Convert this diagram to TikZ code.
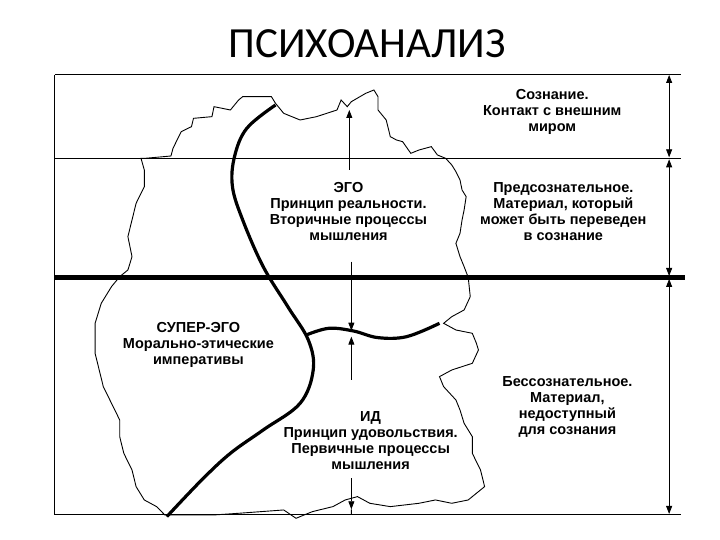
\documentclass[tikz,border=0pt]{standalone}
\usepackage{fontspec}
\setmainfont{Liberation Sans}
\newfontfamily\titlefont{Carlito}
\usetikzlibrary{arrows.meta}
\begin{document}
\begin{tikzpicture}[x=1pt,y=-1pt,
  lbl/.style={align=center,font=\bfseries\fontsize{14.5}{16}\selectfont,inner sep=0pt},
  arr/.style={line width=0.8pt,-{Triangle[length=8pt,width=6pt]}},
  darr/.style={line width=0.8pt,{Triangle[length=8pt,width=6pt]}-{Triangle[length=8pt,width=6pt]}}]
\useasboundingbox (0,0) rectangle (720,540);
\node[font=\titlefont\fontsize{43}{43}\selectfont] (title) at (367,44) {ПСИХОАНАЛИЗ};
\begin{scope}[shift={(50,70)},xscale=0.41,yscale=0.3333]
% frame lines
\draw[line width=1pt] (12,15) -- (1540,15);
\draw[line width=1pt] (12,265) -- (1540,265);
\draw[line width=4.5pt] (12,622) -- (1548,622);
\draw[line width=1pt] (12,1335) -- (1540,1335);
\draw[line width=1pt] (12,15) -- (12,1335);
% blob
\draw[line width=0.9pt] (222,265) -- (232,265) -- (295,258) -- (300,235) -- (320,185) -- (345,170) -- (350,145) -- (395,140) -- (400,110) -- (440,120) -- (460,90) -- (470,80) -- (540,80) -- (550,100) -- (570,130) -- (610,150) -- (650,140) -- (700,120) -- (710,90) -- (725,110) -- (735,95) -- (770,70) -- (790,60) -- (800,80) -- (800,120) -- (820,150) -- (830,200) -- (845,210) -- (860,215) -- (880,250) -- (900,240) -- (930,230) -- (945,255) -- (965,265) -- (980,285) -- (990,305) -- (1000,330) -- (1005,360) -- (1015,380) -- (1010,420) -- (1005,450) -- (1000,490) -- (990,520) -- (1000,560) -- (1010,590) -- (1020,622) -- (1025,680) -- (1010,720) -- (980,740) -- (960,760) -- (990,780) -- (1030,790) -- (1040,820) -- (1045,840) -- (1030,880) -- (980,900) -- (950,920) -- (960,950) -- (990,990) -- (1000,1020) -- (1010,1060) -- (1030,1100) -- (1030,1150) -- (1050,1200) -- (1060,1250) -- (1040,1270) -- (1020,1290) -- (980,1300) -- (940,1290) -- (900,1300) -- (830,1310) -- (780,1300) -- (750,1280) -- (720,1290) -- (690,1310) -- (640,1325) -- (600,1345) -- (570,1320) -- (460,1330) -- (400,1335) -- (280,1335) -- (260,1310) -- (230,1290) -- (210,1250) -- (200,1200) -- (180,1150) -- (170,1100) -- (170,1050) -- (150,1000) -- (130,950) -- (120,900) -- (110,850) -- (110,800) -- (110,760) -- (125,700) -- (150,650) -- (170,620) -- (190,600) -- (200,560) -- (190,500) -- (200,450) -- (210,400) -- (230,350) -- (230,300) -- cycle;
% thick boundaries
\draw[line width=3.2pt] plot[smooth,tension=0.6] coordinates {(550,105) (480,175) (450,260) (445,350) (470,450) (520,590) (580,710) (630,810) (642,900) (610,1000) (520,1080) (440,1150) (370,1230) (285,1340)};
\draw[line width=3.2pt] plot[smooth,tension=0.6] coordinates {(625,795) (680,775) (740,783) (800,803) (870,800) (950,760)};
% inner arrows
\coordinate (a1s) at (730,300); \coordinate (a1e) at (730,120);
\coordinate (a2s) at (735,575); \coordinate (a2e) at (735,782);
\coordinate (a3s) at (735,930); \coordinate (a3e) at (735,800);
\coordinate (a4s) at (735,1225); \coordinate (a4e) at (735,1318);
\draw[arr] (a1s) -- (a1e);
\draw[arr] (a2s) -- (a2e);
\draw[arr] (a3s) -- (a3e);
\draw[arr] (a4s) -- (a4e);
\draw[line width=0.8pt] (a4e) -- (735,1335);
% right arrows
\coordinate (r0) at (1510,15); \coordinate (r1) at (1510,262);
\coordinate (r2) at (1510,268); \coordinate (r3) at (1510,618);
\coordinate (r4) at (1510,627); \coordinate (r5) at (1510,1332);
\draw[darr] (r0) -- (r1);
\draw[darr] (r2) -- (r3);
\draw[darr] (r4) -- (r5);
% labels
\node[lbl] (c) at (1225,125) {Сознание.\\Контакт с внешним\\миром};
\node[lbl] (p) at (1252,425) {Предсознательное.\\Материал, который\\может быть переведен\\в сознание};
\node[lbl] (b) at (1262,1010) {Бессознательное.\\Материал,\\недоступный\\для сознания};
\node[lbl] (ego) at (728,425) {ЭГО\\Принцип реальности.\\Вторичные процессы\\мышления};
\node[lbl] (sego) at (362,825) {СУПЕР-ЭГО\\Морально-этические\\императивы};
\node[lbl] (id) at (782,1112) {ИД\\Принцип удовольствия.\\Первичные процессы\\мышления};
\end{scope}
\end{tikzpicture}
\end{document}
